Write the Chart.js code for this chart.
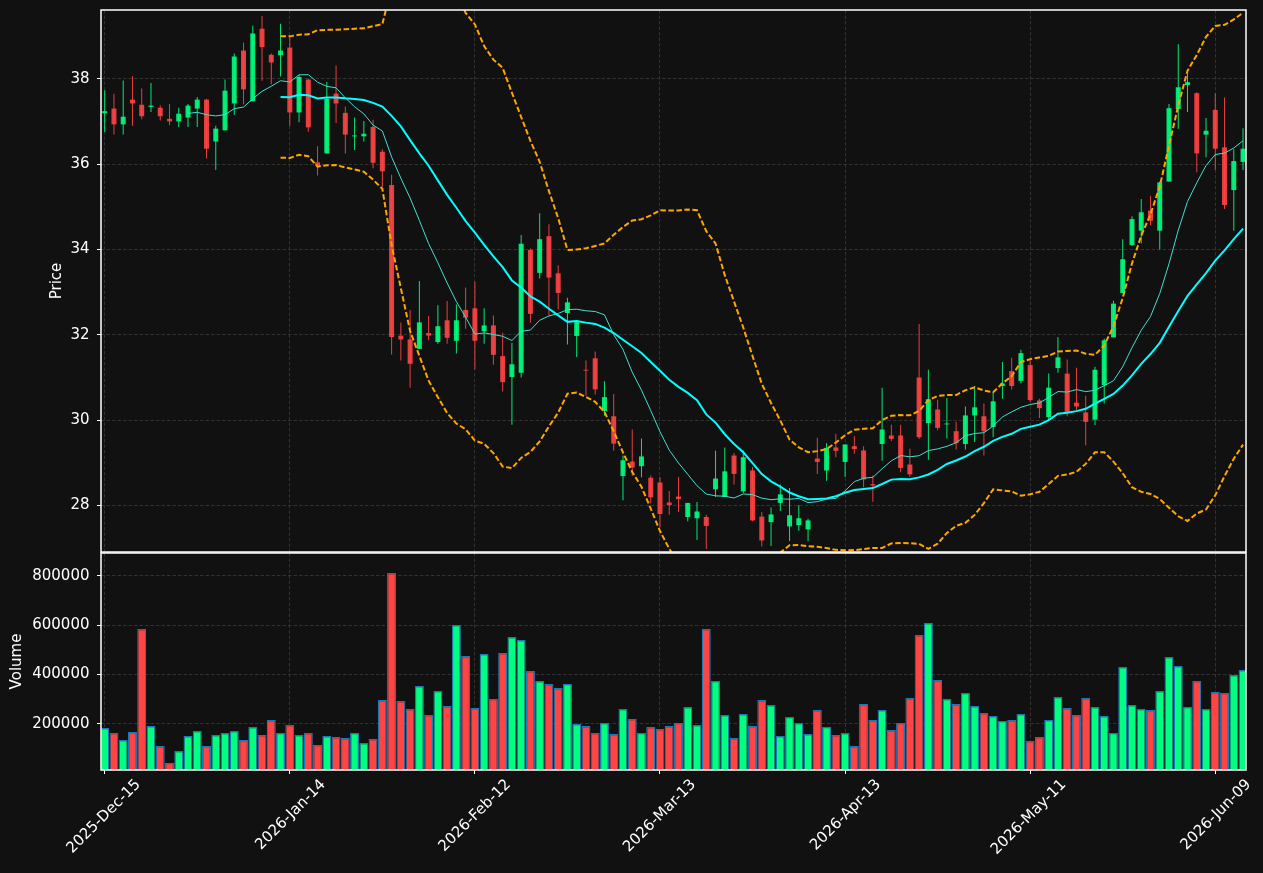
<!DOCTYPE html>
<html>
<head>
<meta charset="utf-8">
<script src="https://cdn.jsdelivr.net/npm/chart.js@4.4.1/dist/chart.umd.min.js"></script>
<style>
html, body { margin: 0; padding: 0; background: #111111; }
#wrap { position: relative; width: 1263px; height: 873px; overflow: hidden; }
canvas { position: absolute; left: 0; }
#price { top: 0; }
#volume { top: 545px; }
</style>
</head>
<body>
<div id="wrap">
  <canvas id="price" width="1263" height="560"></canvas>
  <canvas id="volume" width="1263" height="328"></canvas>
</div>
<script>
// daily OHLC
const opens = [37.19, 37.30, 36.93, 37.51, 37.39, 37.34, 37.32, 37.06, 37.00, 37.09,
  37.30, 37.51, 36.53, 36.79, 37.42, 38.66, 37.47, 39.17, 38.56, 38.55,
  38.73, 37.21, 37.98, 36.04, 36.25, 37.65, 37.20, 36.65, 36.65, 36.87,
  36.29, 35.51, 31.98, 31.89, 31.67, 32.04, 31.83, 32.34, 31.86, 32.58,
  32.62, 32.08, 32.22, 31.50, 31.01, 31.11, 33.99, 33.45, 34.31, 33.44,
  32.51, 31.97, 31.18, 31.45, 30.21, 30.09, 28.69, 29.03, 28.92, 28.65,
  28.54, 28.07, 28.21, 27.73, 27.70, 27.73, 28.38, 28.20, 29.17, 28.33,
  28.82, 27.74, 27.61, 28.06, 27.51, 27.54, 27.44, 29.10, 28.82, 29.36,
  29.02, 29.39, 29.29, 28.50, 29.44, 29.64, 29.64, 28.96, 31.00, 29.93,
  30.25, 29.90, 29.74, 29.44, 30.11, 30.09, 29.84, 30.80, 31.15, 30.92,
  31.29, 30.46, 30.07, 31.22, 31.09, 30.41, 30.18, 30.01, 30.82, 31.94,
  32.98, 34.10, 34.44, 34.91, 34.44, 35.59, 37.29, 37.85, 37.66, 36.69,
  37.27, 36.39, 35.39, 36.05];
const highs = [37.73, 37.65, 37.96, 38.06, 37.77, 37.90, 37.38, 37.41, 37.32, 37.41,
  37.57, 37.53, 36.90, 37.98, 38.59, 38.85, 39.24, 39.47, 38.59, 39.29,
  39.00, 38.09, 38.00, 36.42, 37.92, 38.31, 37.35, 37.09, 37.01, 37.04,
  36.35, 35.75, 32.29, 32.58, 33.26, 32.44, 32.69, 32.79, 32.71, 33.11,
  33.24, 32.62, 32.45, 32.05, 31.81, 34.34, 34.02, 34.85, 34.59, 33.63,
  32.87, 32.32, 31.40, 31.61, 30.91, 30.61, 29.17, 29.78, 29.57, 28.70,
  28.67, 28.34, 28.67, 28.06, 28.08, 27.78, 29.28, 29.36, 29.23, 29.29,
  28.90, 27.85, 27.95, 28.49, 28.41, 28.01, 27.69, 29.59, 29.46, 29.68,
  29.43, 29.63, 29.39, 28.70, 30.76, 29.89, 29.89, 29.33, 32.25, 31.18,
  30.48, 30.52, 29.96, 30.32, 30.80, 30.39, 30.66, 31.36, 31.46, 31.65,
  31.42, 30.50, 31.09, 31.95, 31.42, 31.23, 30.57, 31.25, 31.91, 32.80,
  34.24, 34.78, 35.18, 35.26, 35.59, 37.41, 38.81, 38.13, 37.68, 37.08,
  37.66, 37.56, 36.35, 36.84];
const lows = [36.75, 36.69, 36.69, 36.89, 37.05, 37.22, 37.02, 36.91, 36.87, 36.87,
  36.87, 36.13, 35.86, 36.79, 37.15, 37.40, 37.47, 37.95, 37.87, 38.05,
  36.89, 36.98, 36.76, 35.73, 36.25, 36.96, 36.25, 36.33, 36.53, 35.90,
  35.47, 31.54, 31.40, 30.76, 31.67, 31.87, 31.79, 31.79, 31.56, 32.14,
  31.19, 31.79, 31.30, 30.67, 29.89, 31.00, 32.28, 33.32, 32.46, 32.59,
  31.77, 31.48, 30.57, 30.60, 30.10, 29.28, 28.12, 28.69, 28.66, 28.05,
  27.49, 27.78, 27.85, 27.63, 27.19, 26.98, 28.20, 28.20, 28.49, 28.29,
  27.63, 27.04, 27.05, 27.87, 27.17, 27.41, 27.16, 28.74, 28.58, 29.13,
  28.67, 29.21, 28.43, 28.09, 29.05, 29.51, 28.78, 28.67, 29.56, 29.07,
  29.76, 29.57, 29.31, 29.31, 29.49, 29.17, 29.60, 30.50, 30.72, 30.86,
  30.43, 30.05, 30.00, 31.11, 30.09, 30.23, 29.41, 29.88, 30.39, 31.94,
  32.98, 34.08, 34.14, 34.57, 34.00, 35.59, 36.83, 37.22, 35.81, 36.16,
  35.86, 34.95, 34.44, 35.86];
const closes = [37.24, 36.93, 37.11, 37.42, 37.12, 37.37, 37.12, 37.00, 37.18, 37.37,
  37.51, 36.36, 36.83, 37.72, 38.52, 37.75, 39.06, 38.74, 38.38, 38.66,
  37.21, 38.04, 36.86, 35.97, 37.53, 37.42, 36.69, 36.67, 36.71, 36.03,
  35.83, 31.95, 31.89, 31.32, 32.29, 31.98, 32.20, 31.93, 32.34, 32.40,
  31.86, 32.22, 31.53, 30.89, 31.31, 34.13, 32.49, 34.24, 33.34, 32.98,
  32.76, 32.32, 31.16, 30.72, 30.54, 29.45, 29.06, 28.89, 29.15, 28.19,
  27.80, 28.01, 28.15, 28.06, 27.86, 27.52, 28.63, 28.80, 28.74, 29.13,
  27.65, 27.18, 27.79, 28.26, 27.77, 27.70, 27.65, 29.02, 29.35, 29.28,
  29.43, 29.32, 28.61, 28.47, 29.78, 29.56, 28.88, 28.73, 29.60, 30.49,
  29.82, 29.92, 29.46, 30.11, 30.30, 29.74, 30.44, 30.86, 30.80, 31.57,
  30.47, 30.28, 30.76, 31.47, 30.19, 30.32, 29.96, 31.18, 31.87, 32.73,
  33.77, 34.71, 34.87, 34.67, 35.57, 37.31, 37.80, 37.92, 36.25, 36.78,
  36.36, 35.04, 36.07, 36.36];
const volumes = [182400, 162100, 133700, 166200, 583800, 190500, 109400, 40500, 89200, 150000,
  170300, 109400, 154000, 162100, 170300, 133700, 186500, 154000, 214900, 162100,
  194600, 154000, 162100, 113500, 150000, 145900, 141900, 162100, 121600, 137800,
  295900, 810800, 291900, 259400, 352700, 235100, 332400, 271600, 600000, 474300,
  263500, 482400, 300000, 486500, 551300, 539200, 413500, 373000, 360800, 344600,
  360800, 198600, 190500, 162100, 202700, 158100, 259400, 218900, 162100, 186500,
  178400, 190500, 202700, 267500, 194600, 583800, 373000, 235100, 141900, 239200,
  190500, 295900, 275600, 150000, 227000, 202700, 158100, 255400, 186500, 154000,
  162100, 109400, 279700, 214900, 255400, 174300, 202700, 304000, 559400, 608100,
  377000, 300000, 279700, 324300, 271600, 243200, 231100, 210800, 214900, 239200,
  129700, 145900, 214900, 308100, 263500, 235100, 304000, 267500, 231100, 162100,
  429700, 275600, 259400, 255400, 332400, 470300, 433800, 267500, 373000, 259400,
  328400, 324300, 397300, 417500];

const tickPos = [0, 20, 40, 60, 80, 100, 120];
const tickLabels = ['2025-Dec-15', '2026-Jan-14', '2026-Feb-12', '2026-Mar-13',
  '2026-Apr-13', '2026-May-11', '2026-Jun-09'];
const priceTicks = [28, 30, 32, 34, 36, 38];
const volumeTicks = [200000, 400000, 600000, 800000];

// trading days (weekends and exchange holidays skipped)
const holidays = ['2025-12-25', '2026-01-01', '2026-01-19', '2026-02-16', '2026-04-03', '2026-05-25'];
const dates = [];
for (let d = new Date(Date.UTC(2025, 11, 15)); dates.length < closes.length; d.setUTCDate(d.getUTCDate() + 1)) {
  const iso = d.toISOString().slice(0, 10);
  if (d.getUTCDay() === 0 || d.getUTCDay() === 6 || holidays.includes(iso)) continue;
  dates.push(iso);
}

const UP = 'rgba(0,255,128,0.9)';
const DOWN = 'rgba(255,68,68,0.9)';
const candleColors = closes.map((c, i) => c >= opens[i] ? UP : DOWN);
const volColors = closes.map((c, i) => c >= opens[i] ? '#00ff80' : '#ff4444');

function sma(n) {
  const out = [];
  for (let i = n - 1; i < closes.length; i++) {
    const w = closes.slice(i - n + 1, i + 1);
    out.push({ x: i, y: w.reduce((a, b) => a + b, 0) / n });
  }
  return out;
}
function band(n, k) {
  const out = [];
  for (let i = n - 1; i < closes.length; i++) {
    const w = closes.slice(i - n + 1, i + 1);
    const m = w.reduce((a, b) => a + b, 0) / n;
    const sd = Math.sqrt(w.reduce((a, b) => a + (b - m) * (b - m), 0) / n);
    out.push({ x: i, y: m + k * sd });
  }
  return out;
}

Chart.defaults.font.family = 'DejaVu Sans';
Chart.defaults.font.size = 15;
Chart.defaults.color = '#ffffff';

const frame = {
  id: 'frame',
  afterDraw(chart) {
    const { ctx, chartArea: a } = chart;
    ctx.save();
    ctx.strokeStyle = '#ffffff';
    ctx.lineWidth = 1.5;
    ctx.strokeRect(a.left, a.top, a.right - a.left, a.bottom - a.top);
    ctx.restore();
  }
};

const gridStyle = { color: '#3a3a3a', lineWidth: 0.8, tickLength: 4, tickColor: '#ffffff', tickWidth: 1, offset: false };

function xAxis(showLabels, height) {
  return {
    type: 'linear',
    min: -0.4,
    max: 123.32,
    offset: false,
    border: { display: false, dash: [3.5, 2] },
    grid: Object.assign({}, gridStyle, { drawTicks: showLabels }),
    afterBuildTicks: s => { s.ticks = tickPos.map(v => ({ value: v })); },
    afterFit: s => { s.height = height; s.paddingLeft = 0; s.paddingRight = 0; },
    ticks: {
      display: showLabels,
      autoSkip: false,
      minRotation: 45,
      maxRotation: 45,
      padding: 2,
      labelOffset: 33.5,
      callback: (v, i) => tickLabels[i]
    }
  };
}

function yAxis(min, max, ticks, title, titlePad) {
  return {
    min: min,
    max: max,
    border: { display: false, dash: [3.5, 2] },
    grid: gridStyle,
    afterBuildTicks: s => { s.ticks = ticks.map(v => ({ value: v })); },
    afterFit: s => { s.width = 101; s.paddingTop = 0; s.paddingBottom = 0; },
    ticks: { padding: 7.5, callback: v => String(v) },
    title: { display: true, text: title, padding: { top: titlePad, bottom: 0 } }
  };
}

new Chart(document.getElementById('price'), {
  type: 'bar',
  data: {
    datasets: [
      { type: 'line', label: 'MA10', data: sma(10), borderColor: '#40e0d0', borderWidth: 1,
        pointRadius: 0, order: 0 },
      { type: 'line', label: 'MA20', data: sma(20), borderColor: '#00ffff', borderWidth: 2,
        pointRadius: 0, order: 0 },
      { type: 'line', label: 'BB upper', data: band(20, 2), borderColor: '#ffa500', borderWidth: 2,
        borderDash: [5.5, 2.5], pointRadius: 0, order: 0 },
      { type: 'line', label: 'BB lower', data: band(20, -2), borderColor: '#ffa500', borderWidth: 2,
        borderDash: [5.5, 2.5], pointRadius: 0, order: 0 },
      { label: 'body', data: closes.map((c, i) => ({ x: i, y: [opens[i], c] })),
        backgroundColor: candleColors, grouped: false, categoryPercentage: 1, barPercentage: 1,
        maxBarThickness: 5, inflateAmount: 0, order: 1 },
      { label: 'wick', data: closes.map((c, i) => ({ x: i, y: [lows[i], highs[i]] })),
        backgroundColor: candleColors, grouped: false, categoryPercentage: 1, barPercentage: 1,
        maxBarThickness: 1, inflateAmount: 0, order: 2 }
    ]
  },
  options: {
    responsive: false,
    animation: false,
    layout: { padding: { top: 10, right: 17, left: 0, bottom: 0 } },
    plugins: { legend: { display: false }, tooltip: { enabled: false } },
    scales: {
      x: xAxis(false, 8),
      y: yAxis(26.91, 39.61, priceTicks, 'Price', 48)
    }
  },
  plugins: [frame]
});

new Chart(document.getElementById('volume'), {
  type: 'bar',
  data: {
    datasets: [
      { label: 'Volume', data: volumes.map((v, i) => ({ x: i, y: v })),
        backgroundColor: volColors, borderColor: '#1f77b4', borderWidth: 1.2,
        grouped: false, categoryPercentage: 1, barPercentage: 0.97, inflateAmount: 0 }
    ]
  },
  options: {
    responsive: false,
    animation: false,
    layout: { padding: { top: 8, right: 17, left: 0, bottom: 0 } },
    plugins: { legend: { display: false }, tooltip: { enabled: false } },
    scales: {
      x: xAxis(true, 103),
      y: yAxis(12000, 892000, volumeTicks, 'Volume', 8)
    }
  },
  plugins: [frame]
});
</script>
</body>
</html>
